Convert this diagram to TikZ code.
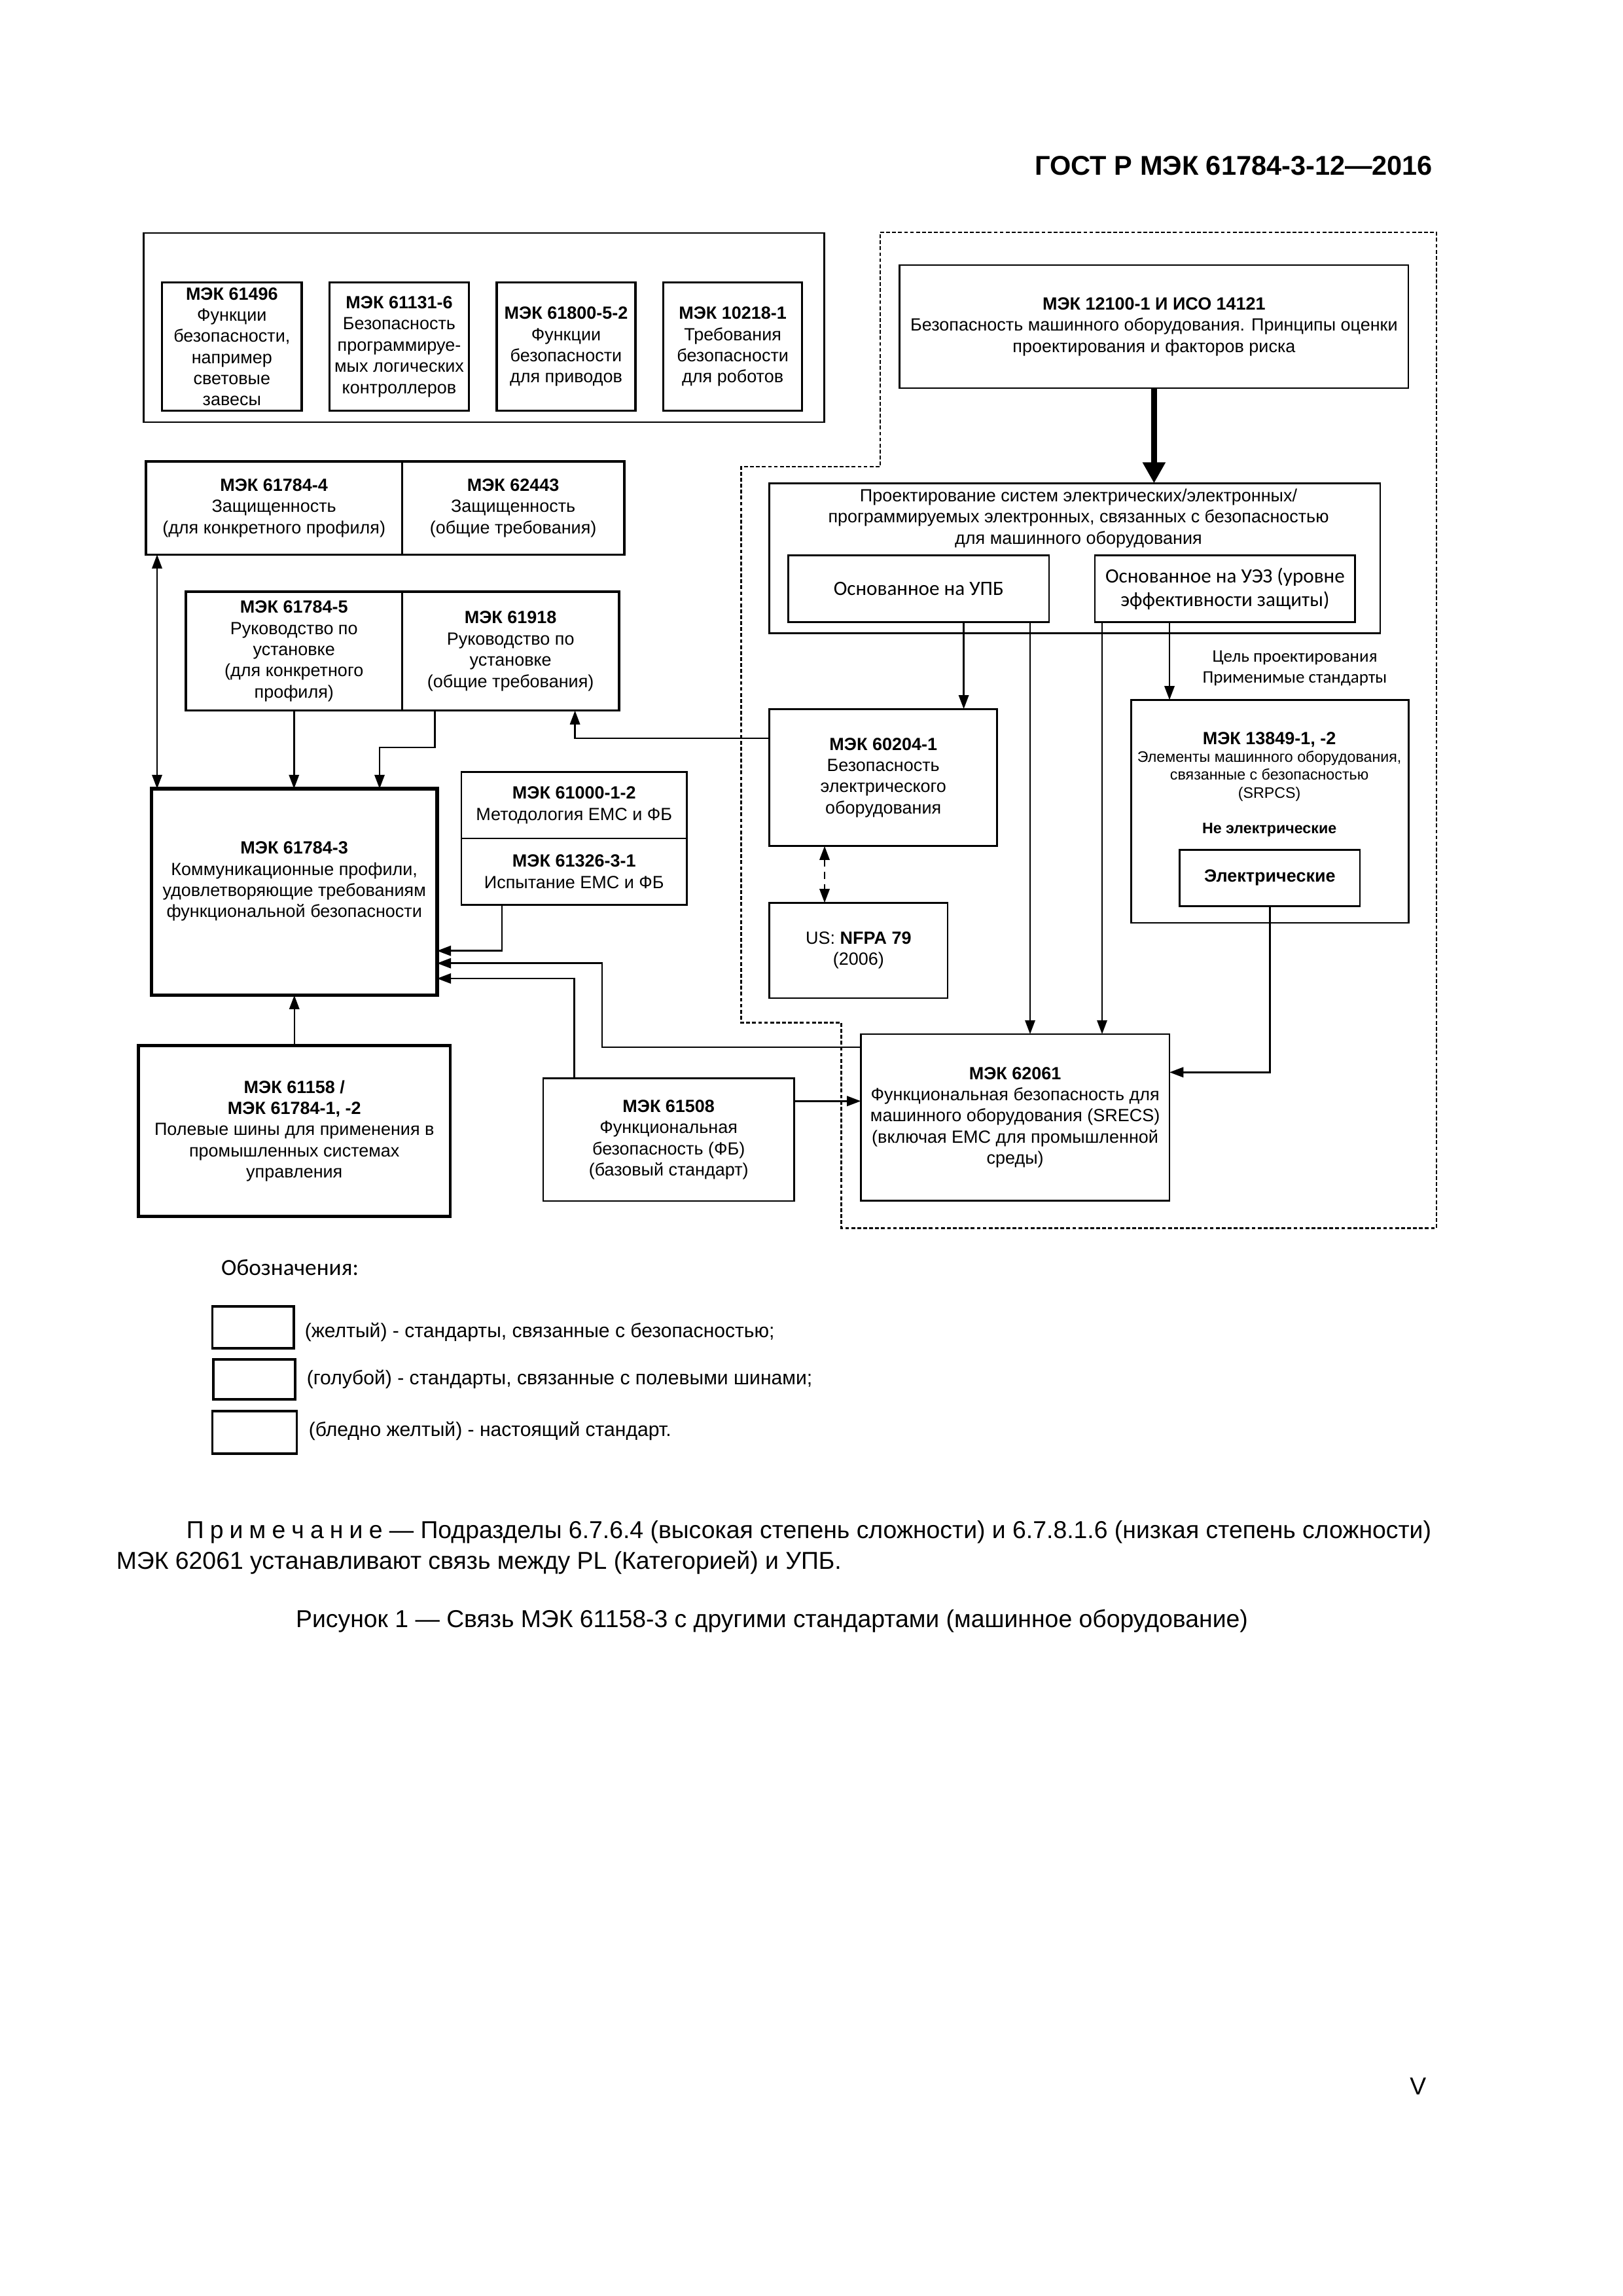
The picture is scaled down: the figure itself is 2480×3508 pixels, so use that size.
\documentclass[tikz,border=0pt]{standalone}
\usepackage{fontspec}
\setmainfont{Liberation Sans}
\newfontfamily\calib{Carlito}
\usetikzlibrary{arrows.meta}
\newcommand\mkbox[7]{%
  \node[#6, minimum width={(#4-#2)*0.084677mm}, minimum height={(#5-#3)*0.084677mm}] (#1) at ({(#2+#4)/2},{(#3+#5)/2}) {#7};}
\tikzset{
  bx/.style={draw, line width=0.65pt, inner sep=0pt, outer sep=0pt, align=center, font=\fontsize{6.5}{7.8}\selectfont},
  bxm/.style={bx, line width=0.85pt},
  bxt/.style={bx, line width=1.2pt},
  txt/.style={inner sep=0pt, align=center, font=\fontsize{6.5}{7.8}\selectfont},
  arr/.style={line width=0.6pt, -{Triangle[length=1.8mm,width=1.3mm]}},
  darr/.style={line width=0.6pt, {Triangle[length=1.8mm,width=1.3mm]}-{Triangle[length=1.8mm,width=1.3mm]}},
  region/.style={line width=0.7pt, dash pattern=on 1.4pt off 0.8pt},
  plain/.style={inner sep=0pt},
}
\begin{document}
\begin{tikzpicture}[x=0.084677mm, y=-0.084677mm]
\fill[white] (0,0) rectangle (2480,3508);
\useasboundingbox (0,0) rectangle (2480,3508);

% header
\node[plain, anchor=base east, font=\fontsize{10}{12}\selectfont\bfseries] (hdr) at (2190,267) {ГОСТ Р МЭК 61784-3-12—2016};

% top group
\mkbox{grp}{219.6}{356}{1259.3}{645}{bx}{}
\mkbox{b61496}{247.7}{431.7}{461}{627.7}{bx, line width=0.75pt}{\textbf{МЭК 61496}\\Функции\\безопасности,\\например\\световые\\завесы}
\mkbox{b61131}{503.7}{431.7}{716.3}{627.7}{bx, line width=0.75pt}{\textbf{МЭК 61131-6}\\Безопасность\\программируе-\\мых логических\\контроллеров}
\mkbox{b61800}{759}{431.7}{971}{627.7}{bx, line width=0.75pt}{\textbf{МЭК 61800-5-2}\\Функции\\безопасности\\для приводов}
\mkbox{b10218}{1013.7}{431.7}{1225.6}{627.7}{bx, line width=0.75pt}{\textbf{МЭК 10218-1}\\Требования\\безопасности\\для роботов}

% dashed region
\draw[region] (1345,355) -- (2195,355) -- (2195,1876.7) -- (1285.7,1876.7) -- (1285.7,1562.3) -- (1132.4,1562.3) -- (1132.4,713) -- (1345,713) -- cycle;

% right part
\mkbox{b12100}{1374.8}{405}{2152}{593}{bx}{\textbf{МЭК 12100-1 И ИСО 14121}\\Безопасность машинного оборудования. Принципы оценки\\проектирования и факторов риска}
\mkbox{design}{1175.7}{738.3}{2109}{967.3}{bx}{}
\node[txt] (designtxt) at (1648,791.7) {Проектирование систем электрических/электронных/\\программируемых электронных, связанных с безопасностью\\для машинного оборудования};
\mkbox{upb}{1204.5}{848.3}{1603}{950.7}{bx, font=\calib\fontsize{7.5}{8.8}\selectfont}{Основанное на УПБ}
\mkbox{uez}{1673}{848.3}{2070.8}{950.7}{bx, font=\calib\fontsize{7.5}{8.8}\selectfont}{Основанное на УЭЗ (уровне\\эффективности защиты)}
\node[txt, font=\calib\fontsize{6.5}{7.6}\selectfont] (goal) at (1978.5,1020.8) {Цель проектирования\\Применимые стандарты};

\mkbox{b60204}{1175.7}{1083.3}{1523.8}{1292.7}{bx}{\textbf{МЭК 60204-1}\\Безопасность\\электрического\\оборудования}
\mkbox{nfpa}{1175.7}{1379.3}{1448}{1525}{bx}{US: \textbf{NFPA 79}\\(2006)}

\mkbox{b13849}{1728.5}{1069.3}{2152.2}{1410}{bx}{}
\node[txt, font=\fontsize{6.5}{7.8}\selectfont\bfseries] (t13849a) at (1939.6,1130) {МЭК 13849-1, -2};
\node[txt, font=\fontsize{5.6}{6.6}\selectfont] (t13849b) at (1939.6,1185.8) {Элементы машинного оборудования,\\связанные с безопасностью\\(SRPCS)};
\node[txt, font=\fontsize{5.6}{6.6}\selectfont\bfseries] (t13849c) at (1939.6,1268.3) {Не электрические};
\mkbox{elec}{1802.7}{1298.3}{2078}{1384.3}{bx, font=\fontsize{6.5}{7.8}\selectfont\bfseries}{Электрические}

\mkbox{b62061}{1315.3}{1580}{1787}{1834.3}{bx}{\textbf{МЭК 62061}\\Функциональная безопасность для\\машинного оборудования (SRECS)\\(включая ЕМС для промышленной\\среды)}
\mkbox{b61508}{830}{1647.7}{1213.4}{1835}{bx}{\textbf{МЭК 61508}\\Функциональная\\безопасность (ФБ)\\(базовый стандарт)}

% left part
\mkbox{b617844}{223}{705}{614.3}{847.3}{bxm}{\textbf{МЭК 61784-4}\\Защищенность\\(для конкретного профиля)}
\mkbox{b62443}{614.3}{705}{954}{847.3}{bxm}{\textbf{МЭК 62443}\\Защищенность\\(общие требования)}
\mkbox{b617845}{284.2}{904}{614.3}{1085.7}{bxm}{\textbf{МЭК 61784-5}\\Руководство по\\установке\\(для конкретного\\профиля)}
\mkbox{b61918}{614.3}{904}{946}{1085.7}{bxm}{\textbf{МЭК 61918}\\Руководство по\\установке\\(общие требования)}
\mkbox{b617843}{231.6}{1205}{667.8}{1520.7}{bxt, line width=1.3pt}{}
\node[txt] (t617843) at (449.7,1346.7) {\textbf{МЭК 61784-3}\\Коммуникационные профили,\\удовлетворяющие требованиям\\функциональной безопасности};
\mkbox{b61000}{705}{1179.3}{1049.5}{1281}{bx}{\textbf{МЭК 61000-1-2}\\Методология ЕМС и ФБ}
\mkbox{b61326}{705}{1281}{1049.5}{1382.3}{bx}{\textbf{МЭК 61326-3-1}\\Испытание ЕМС и ФБ}
\mkbox{b61158}{211.5}{1597.7}{688}{1858.3}{bxt}{\textbf{МЭК 61158 /}\\\textbf{МЭК 61784-1, -2}\\Полевые шины для применения в\\промышленных системах\\управления}

% connector helper coordinates
\coordinate (cA) at (1472.6,0);
\coordinate (cB) at (1574,0);
\coordinate (cC) at (1684,0);
\coordinate (cD) at (1787,0);
\coordinate (cE) at (1260,0);
\coordinate (j1) at (878.6,1128);
\coordinate (j2) at (0,1638.3);
\coordinate (j3) at (0,1682.3);
\coordinate (j4) at (920,1600);
\coordinate (j5) at (920,1471.7);
\coordinate (j6) at (877.3,1495);
\coordinate (j7) at (767,1452.7);
\coordinate (j8) at (664.3,1142);
\coordinate (j9) at (580,1142);
\coordinate (j10) at (240,0);

% connectors
\draw[line width=2.3pt, -{Triangle[length=2.7mm,width=2.8mm]}] (b12100.south) -- (design.north -| b12100.south);
\draw[arr] (upb.south -| cA) -- (b60204.north -| cA);
\draw[arr] (upb.south -| cB) -- (b62061.north -| cB);
\draw[arr] (uez.south -| cC) -- (b62061.north -| cC);
\draw[arr] (uez.south -| cD) -- (b13849.north -| cD);
\draw[darr, dash pattern=on 0.9mm off 0.7mm] (b60204.south -| cE) -- (nfpa.north -| cE);
\draw[arr] (b60204.west |- j1) -- (j1) -- (b61918.south -| j1);
\draw[arr] (elec.south) -- (elec.south |- j2) -- (b62061.east |- j2);
\draw[arr] (b61508.east |- j3) -- (b62061.west |- j3);
\draw[arr] (b62061.west |- j4) -- (j4) -- (j5) -- (b617843.east |- j5);
\draw[arr] (b61508.north -| j6) -- (j6) -- (b617843.east |- j6);
\draw[arr] (b61326.south -| j7) -- (j7) -- (b617843.east |- j7);
\draw[arr] (b61158.north) -- (b617843.south -| b61158.north);
\draw[arr] (b617845.south) -- (b617843.north -| b617845.south);
\draw[arr] (b61918.south -| j8) -- (j8) -- (j9) -- (b617843.north -| j9);
\draw[darr] (b617844.south -| j10) -- (b617843.north -| j10);

% legend
\node[plain, anchor=west, font=\calib\fontsize{8.5}{10}\selectfont] (legtitle) at (337.4,1937) {Обозначения:};
\mkbox{leg1}{324.6}{1996}{449}{2060}{bxm}{}
\mkbox{leg2}{326}{2077}{451}{2138}{bxm}{}
\mkbox{leg3}{324.6}{2156}{453.5}{2221}{bxm}{}
\node[plain, anchor=west, font=\fontsize{7.25}{8.6}\selectfont] (leg1t) at (465,2035) {(желтый) - стандарты, связанные с безопасностью;};
\node[plain, anchor=west, font=\fontsize{7.25}{8.6}\selectfont] (leg2t) at (468,2107) {(голубой) - стандарты, связанные с полевыми шинами;};
\node[plain, anchor=west, font=\fontsize{7.25}{8.6}\selectfont] (leg3t) at (471,2186) {(бледно желтый) - настоящий стандарт.};

% note and caption
\node[plain, anchor=west, font=\fontsize{9}{11}\selectfont] (note1) at (284,2341) {П\hspace{2.2pt}р\hspace{2.2pt}и\hspace{2.2pt}м\hspace{2.2pt}е\hspace{2.2pt}ч\hspace{2.2pt}а\hspace{2.2pt}н\hspace{2.2pt}и\hspace{2.2pt}е — Подразделы 6.7.6.4 (высокая степень сложности) и 6.7.8.1.6 (низкая степень сложности)};
\node[plain, anchor=west, font=\fontsize{9}{11}\selectfont] (note2) at (177,2387) {МЭК 62061 устанавливают связь между PL (Категорией) и УПБ.};
\node[plain, font=\fontsize{9}{11}\selectfont] (caption) at (1179.5,2477) {Рисунок 1 — Связь МЭК 61158-3 с другими стандартами (машинное оборудование)};
\node[plain, anchor=base east, font=\fontsize{9}{11}\selectfont] (pagenum) at (2180,3200) {V};
\end{tikzpicture}
\end{document}
